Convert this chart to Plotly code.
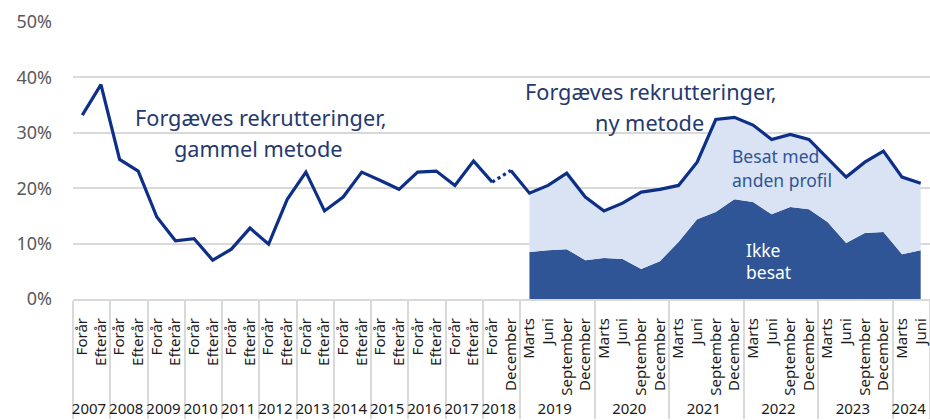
import plotly.graph_objects as go

# ---- data ----
years_old = [str(y) for y in range(2007, 2018)]
halves = ["Forår", "Efterår"]
quarters = ["Marts", "Juni", "September", "December"]

outer = []
inner = []
for y in years_old:
    for h in halves:
        outer.append(y)
        inner.append(h)
# zero-width space keeps 2018's "December" separate from the quarterly "December"
outer += ["2018", "2018"]
inner += ["Forår", "December\u200b"]
for y in ["2019", "2020", "2021", "2022", "2023"]:
    for q in quarters:
        outer.append(y)
        inner.append(q)
outer += ["2024", "2024"]
inner += ["Marts", "Juni"]

# Forgæves rekrutteringer, gammel metode (2007 Forår - 2018 Forår), pct.
old_method = [33.2, 38.7, 25.2, 23.1, 14.8, 10.5, 10.9, 7.0, 9.0, 12.8, 9.9,
              18.0, 22.9, 15.9, 18.4, 22.9, 21.4, 19.8, 22.9, 23.1, 20.5, 24.9,
              21.1]
# Forgæves rekrutteringer, ny metode (2018 December - 2024 Juni), pct.
new_method = [23.2,
              19.1, 20.5, 22.7, 18.4,
              15.9, 17.3, 19.3, 19.8,
              20.5, 24.7, 32.4, 32.8,
              31.4, 28.8, 29.7, 28.8,
              25.4, 22.0, 24.7, 26.7,
              22.0, 20.9]
# Ikke besat (2019 Marts - 2024 Juni), pct.
ikke_besat = [8.5, 8.8, 9.0, 7.0,
              7.4, 7.2, 5.4, 6.8,
              10.3, 14.4, 15.7, 18.0,
              17.5, 15.3, 16.6, 16.2,
              13.9, 10.1, 11.9, 12.1,
              8.1, 8.8]

n = len(inner)
x = [outer, inner]
y_old = old_method + [None] * (n - len(old_method))
y_new = [None] * (n - len(new_method)) + new_method
y_bridge = [None] * n
y_bridge[len(old_method) - 1] = old_method[-1]
y_bridge[len(old_method)] = new_method[0]
y_total_area = [None] * (n - len(ikke_besat)) + new_method[1:]
y_ikke = [None] * (n - len(ikke_besat)) + ikke_besat

NAVY = "#0d2f88"
DARK = "#2f5597"
LIGHT = "#dae3f3"
FONT = "Noto Sans"

fig = go.Figure()
# first trace carries every category so the axis order follows the data order
fig.add_trace(go.Scatter(x=x, y=y_old, mode="lines",
                         line=dict(color=NAVY, width=3.2), showlegend=False))
fig.add_trace(go.Scatter(x=x, y=y_ikke, mode="none", fill="tozeroy",
                         fillcolor=DARK, showlegend=False, hoverinfo="skip"))
fig.add_trace(go.Scatter(x=x, y=y_total_area, mode="none", fill="tonexty",
                         fillcolor=LIGHT, showlegend=False, hoverinfo="skip"))
fig.add_trace(go.Scatter(x=x, y=y_bridge, mode="lines",
                         line=dict(color=NAVY, width=3.2, dash="dot"), showlegend=False))
fig.add_trace(go.Scatter(x=x, y=y_new, mode="lines",
                         line=dict(color=NAVY, width=3.2), showlegend=False))

L, R, T, B = 73, 0, 22, 121
W, H = 930, 420

def px(xp):
    return (xp - L) / (W - L - R)

def py(yp):
    return (H - B - yp) / (H - B - T)

title_col = "#24396e"
ann = [
    dict(text="Forgæves rekrutteringer,", x=px(260), y=py(117),
         font=dict(size=21.7, color=title_col)),
    dict(text="gammel metode", x=px(258), y=py(148),
         font=dict(size=21.7, color=title_col)),
    dict(text="Forgæves rekrutteringer,", x=px(650), y=py(91),
         font=dict(size=21.7, color=title_col)),
    dict(text="ny metode", x=px(649), y=py(122),
         font=dict(size=21.7, color=title_col)),
    dict(text="Besat med", x=px(730), y=py(156), xanchor="left",
         font=dict(size=17.5, color="#2f5597")),
    dict(text="anden profil", x=px(730), y=py(180), xanchor="left",
         font=dict(size=17.5, color="#2f5597")),
    dict(text="Ikke", x=px(744), y=py(250), xanchor="left",
         font=dict(size=17.5, color="white")),
    dict(text="besat", x=px(744), y=py(272), xanchor="left",
         font=dict(size=17.5, color="white")),
]
for a in ann:
    a.update(xref="paper", yref="paper", showarrow=False)
    a.setdefault("xanchor", "center")
    a["yanchor"] = "middle"
    a["font"]["family"] = FONT

fig.update_layout(
    width=W, height=H,
    margin=dict(l=L, r=R, t=T, b=B, autoexpand=False),
    plot_bgcolor="white", paper_bgcolor="white",
    font=dict(family=FONT, color="#404040"),
    annotations=ann,
    xaxis=dict(type="multicategory", tickangle=-90, showgrid=False,
               range=[-0.5, n - 0.5],
               showline=True, linecolor="#d9d9d9", linewidth=2,
               showdividers=True, dividercolor="#d9d9d9", dividerwidth=2,
               tickfont=dict(size=15, color="#1a1a1a"), ticks="",
               ticklabelstandoff=11, automargin=False),
    yaxis=dict(range=[0, 50], dtick=10, ticksuffix="%", showgrid=True,
               gridcolor="#d9d9d9", gridwidth=1.5, zeroline=False,
               tickfont=dict(size=18, color="#595959"),
               ticklabelstandoff=20, automargin=False),
)

fig.write_html("out.html", config={"displayModeBar": False},
               post_script="document.body.style.margin='0';")
